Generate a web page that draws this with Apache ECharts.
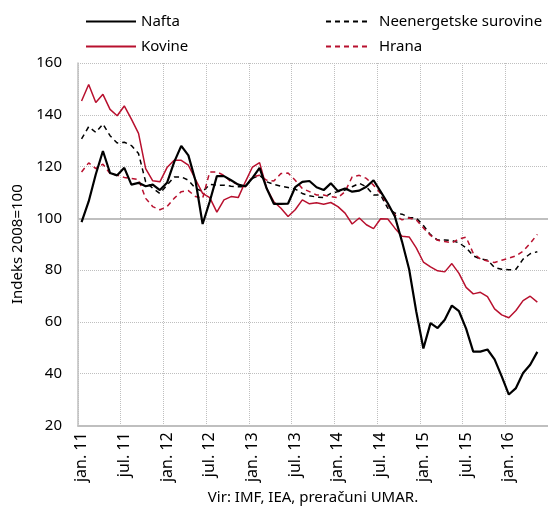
<!DOCTYPE html>
<html>
<head>
<meta charset="utf-8">
<script src="https://cdn.jsdelivr.net/npm/echarts@6/dist/echarts.min.js"></script>
<style>
  html, body { margin: 0; padding: 0; background: #fff; }
  #chart { width: 548px; height: 510px; }
</style>
</head>
<body>
<div id="chart"></div>
<script>
// mesečni podatki, jan. 2011 - maj 2016 (indeks 2008=100)
var months = ['jan.', 'feb.', 'mar.', 'apr.', 'maj', 'jun.', 'jul.', 'avg.', 'sep.', 'okt.', 'nov.', 'dec.'];
var years = ['11', '12', '13', '14', '15', '16'];

var nafta = [98.5, 106.5, 117, 126, 117.5, 116.6, 119.5, 113, 113.7, 112.4, 113, 110.9,
	113.7, 121.7, 128, 124.3, 114.5, 97.8, 106.5, 116.3, 116.3, 114.7, 113, 112.4,
	115.6, 119.5, 111.5, 105.6, 105.6, 105.7, 112, 114.1, 114.4, 112, 110.9, 113.5,
	110.5, 111.5, 110.3, 110.7, 112.2, 114.7, 110.3, 105.8, 100.7, 91, 80.3, 64,
	49.7, 59.5, 57.6, 60.8, 66.3, 64.1, 57.4, 48.5, 48.5, 49.3, 45.5, 38.9,
	31.9, 34.4, 40.2, 43.4, 48.4];

var kovine = [145.3, 151.7, 144.7, 147.9, 142.1, 139.6, 143.4, 138.3, 132.8, 119.2, 114.5, 114.1,
	119.6, 122.4, 122.4, 120.5, 115, 109.6, 108, 102.4, 107.1, 108.4, 108, 114.1,
	119.8, 121.5, 111.5, 106.4, 103.9, 100.7, 103.3, 107.1, 105.6, 106, 105.4, 106.1,
	104.5, 102, 97.8, 100.1, 97.5, 96, 99.8, 99.7, 96.2, 93.1, 92.8, 88.6,
	83.1, 81.2, 79.7, 79.3, 82.5, 78.7, 73.3, 70.8, 71.4, 69.7, 65, 62.7,
	61.6, 64.4, 68.2, 69.9, 67.6];

var neenergetske = [130.7, 135.4, 133.2, 136.4, 131.9, 129.1, 129.4, 128.1, 125, 114.1, 111.6, 109.6,
	112.8, 116, 116, 114.7, 111.6, 110.3, 113.1, 112.8, 112.8, 112.4, 112.2, 112.2,
	115.4, 116.6, 114.1, 113.1, 112.4, 111.9, 111.3, 109.6, 108.7, 108.2, 108, 109.6,
	110.3, 110.9, 112.2, 113.5, 112.2, 109, 109, 103.9, 102, 101.6, 100.3, 100.1,
	97.2, 93.7, 91.6, 91.6, 91.4, 90.5, 88.6, 85.5, 84.3, 83.8, 81, 80.3,
	80.1, 80.3, 84.2, 86.3, 87.1];

var hrana = [117.9, 121.4, 119.2, 120.9, 117.3, 116.7, 115.8, 115.4, 115, 107.7, 104.5, 103.3,
	104.5, 107.7, 110.3, 110.7, 108.4, 107.7, 117.9, 117.9, 116.6, 114.1, 113.1, 112.2,
	116, 116.6, 114.7, 114.4, 117.3, 117.5, 114.7, 111.5, 110.3, 109, 109, 108.4,
	108, 110.3, 116, 116.6, 115.4, 112.8, 109.6, 105.2, 101.3, 99.4, 100.1, 99.4,
	96.3, 93.4, 91.5, 91, 90.5, 92, 92.7, 86.5, 84.3, 83.5, 82.9, 83.8,
	84.6, 85.5, 87.3, 90.3, 93.8];

var yTicks = [20, 40, 60, 80, 100, 120, 140, 160];

// kategorije (os ima še en prazen mesec na koncu, jun. 16)
var categories = [];
for (var y = 0; y < years.length; y++) {
	for (var m = 0; m < months.length; m++) {
		if (categories.length < 66) {
			categories.push(months[m] + ' ' + years[y]);
		}
	}
}

var rdeca = '#b8102e';
var siva = '#bfbfbf';
var pisava = '"Noto Sans", "DejaVu Sans", sans-serif';

var chart = echarts.init(document.getElementById('chart'));
chart.setOption({
	animation: false,
	textStyle: { fontFamily: pisava, color: '#000' },
	legend: [
		{
			data: ['Nafta', 'Kovine'],
			orient: 'vertical',
			left: 80,
			top: 9,
			itemWidth: 50,
			itemHeight: 10,
			itemGap: 10,
			itemStyle: { opacity: 0 },
			textStyle: { fontFamily: pisava, fontSize: 15, color: '#000' }
		},
		{
			data: ['Neenergetske surovine', 'Hrana'],
			orient: 'vertical',
			left: 320,
			top: 9,
			itemWidth: 43,
			itemHeight: 10,
			itemGap: 10,
			itemStyle: { opacity: 0 },
			textStyle: { fontFamily: pisava, fontSize: 15, color: '#000', padding: [0, 0, 0, 5] }
		}
	],
	grid: { left: 78, right: 0, top: 63, bottom: 80 },
	xAxis: {
		type: 'category',
		data: categories,
		boundaryGap: true,
		name: 'Vir: IMF, IEA, preračuni UMAR.',
		nameLocation: 'middle',
		nameGap: 59,
		nameTextStyle: { fontFamily: pisava, fontSize: 15, color: '#000' },
		axisLine: { lineStyle: { color: siva, width: 2 } },
		axisTick: { show: false },
		axisLabel: {
			interval: 5,
			rotate: 90,
			margin: 7,
			fontFamily: pisava,
			fontSize: 16,
			color: '#000'
		},
		splitLine: {
			show: true,
			interval: 5,
			lineStyle: { color: siva, type: 'dotted', width: 1 }
		}
	},
	yAxis: {
		type: 'value',
		min: yTicks[0],
		max: yTicks[yTicks.length - 1],
		interval: 20,
		name: 'Indeks 2008=100',
		nameLocation: 'middle',
		nameGap: 52,
		nameTextStyle: { fontFamily: pisava, fontSize: 15, color: '#000' },
		axisLine: { show: true, lineStyle: { color: siva, width: 1.5 } },
		axisTick: { show: false },
		axisLabel: { margin: 16, fontFamily: pisava, fontSize: 15, color: '#000' },
		splitLine: { lineStyle: { color: siva, type: 'dotted', width: 1 } }
	},
	series: [
		{
			name: 'Nafta',
			type: 'line',
			data: nafta,
			symbol: 'none',
			z: 5,
			lineStyle: { color: '#000', width: 2.2 },
			itemStyle: { color: '#000' },
			markLine: {
				silent: true,
				z: 1,
				symbol: ['none', 'none'],
				label: { show: false },
				lineStyle: { color: siva, width: 2, type: 'solid' },
				data: [{ yAxis: 100 }]
			}
		},
		{
			name: 'Kovine',
			type: 'line',
			data: kovine,
			symbol: 'none',
			z: 4,
			lineStyle: { color: rdeca, width: 1.5 },
			itemStyle: { color: rdeca }
		},
		{
			name: 'Neenergetske surovine',
			type: 'line',
			data: neenergetske,
			symbol: 'none',
			z: 3,
			lineStyle: { color: '#000', width: 1.5, type: [5, 4] },
			itemStyle: { color: '#000' }
		},
		{
			name: 'Hrana',
			type: 'line',
			data: hrana,
			symbol: 'none',
			z: 3,
			lineStyle: { color: rdeca, width: 1.5, type: [5, 4] },
			itemStyle: { color: rdeca }
		}
	]
});
</script>
</body>
</html>
